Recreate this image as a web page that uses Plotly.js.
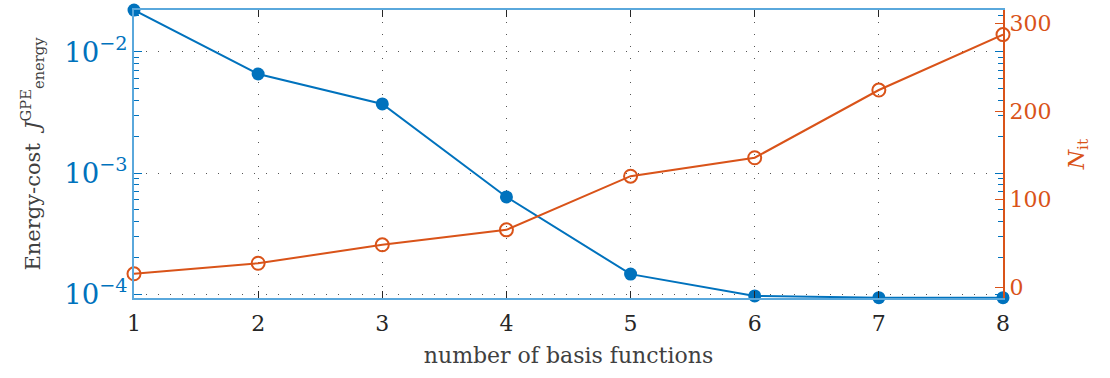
<!DOCTYPE html>
<html>
<head>
<meta charset="utf-8">
<script src="https://cdn.plot.ly/plotly-3.0.1.min.js"></script>
<style>html,body{margin:0;padding:0;background:#fff;}#chart{width:1110px;height:378px;}</style>
</head>
<body>
<div id="chart"></div>
<script>
const basisFunctions = [1, 2, 3, 4, 5, 6, 7, 8];
const energyCost = [0.0222, 0.00658, 0.00372, 0.000634, 0.000146, 0.0000965, 0.0000932, 0.0000932];
const iterations = [15, 27, 48, 65, 126, 147, 224, 287];
const xTickLabels = ['1', '2', '3', '4', '5', '6', '7', '8'];

const BLUE = '#0072BD';
const ORANGE = '#D95319';
const FONT = '"DejaVu Serif", "Liberation Serif", serif';

const traces = [
  {
    x: basisFunctions, y: energyCost, type: 'scatter', mode: 'lines+markers',
    line: {color: BLUE, width: 2}, marker: {color: BLUE, size: 13, symbol: 'circle'},
    cliponaxis: false, yaxis: 'y', showlegend: false
  },
  {
    x: basisFunctions, y: iterations, type: 'scatter', mode: 'lines+markers',
    line: {color: ORANGE, width: 2},
    marker: {color: ORANGE, size: 13, symbol: 'circle-open', line: {color: ORANGE, width: 2}},
    cliponaxis: false, yaxis: 'y2', showlegend: false
  }
];

const layout = {
  width: 1110, height: 378,
  margin: {l: 134, r: 107, t: 10, b: 80},
  paper_bgcolor: '#fff', plot_bgcolor: '#fff',
  font: {family: FONT, size: 20, color: '#262626'},
  xaxis: {
    range: [1, 8], tickvals: basisFunctions, ticktext: xTickLabels,
    ticks: 'inside', ticklen: 7, tickcolor: '#262626', tickwidth: 1,
    ticklabelstandoff: 5,
    showline: true, linecolor: '#5AA8DC', linewidth: 2, mirror: 'ticks',
    showgrid: true, gridcolor: '#555', griddash: '1px,11px', gridwidth: 1,
    zeroline: false,
    tickfont: {family: FONT, size: 22, color: '#262626'},
    title: {text: 'number of basis functions', font: {family: FONT, size: 22, color: '#404040'}, standoff: 12}
  },
  yaxis: {
    type: 'log', range: [-4.033, -1.653], dtick: 1, exponentformat: 'power',
    ticks: 'inside', ticklen: 8, tickcolor: BLUE, tickwidth: 1,
    minor: {dtick: 'D1', ticks: 'inside', ticklen: 5, tickcolor: BLUE, showgrid: false},
    showline: true, linecolor: '#5AA8DC', linewidth: 2, mirror: 'ticks',
    showgrid: true, gridcolor: '#555', griddash: '1px,11px', gridwidth: 1,
    zeroline: false,
    tickfont: {family: FONT, size: 22, color: BLUE},
    title: {text: 'Energy-cost  <i>J</i><sup>GPE</sup><sub>energy</sub>', font: {family: FONT, size: 21, color: '#404040'}, standoff: 18}
  },
  yaxis2: {
    overlaying: 'y', side: 'right', range: [-12.5, 315],
    tickvals: [0, 100, 200, 300],
    ticks: 'inside', ticklen: 8, tickcolor: ORANGE, tickwidth: 1,
    showline: true, linecolor: ORANGE, linewidth: 2,
    showgrid: false, zeroline: false,
    tickfont: {family: FONT, size: 22, color: ORANGE},
    title: {text: '<i>N</i><sub>it</sub>', font: {family: FONT, size: 22, color: ORANGE}, standoff: 18}
  }
};

Plotly.newPlot('chart', traces, layout, {displayModeBar: false, staticPlot: true});
</script>
</body>
</html>
